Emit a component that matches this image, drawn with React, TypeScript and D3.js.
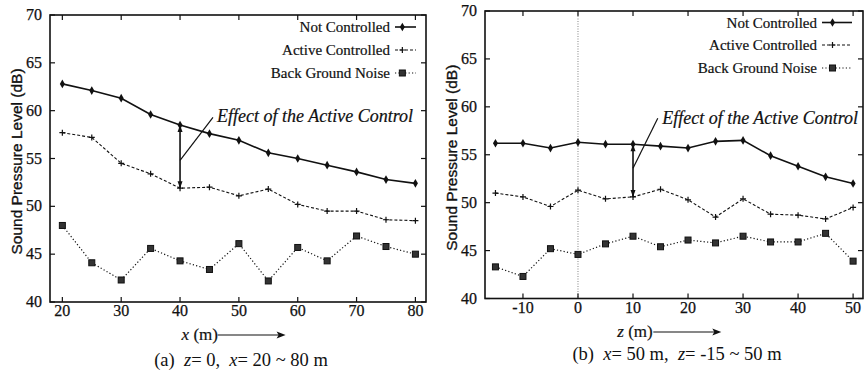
import { useEffect, useRef } from 'react'
import * as d3 from 'd3'

// ---- data ----
const seriesNames = ['Not Controlled', 'Active Controlled', 'Back Ground Noise']
const effectLabel = 'Effect of the Active Control'
const yTicks = [40, 45, 50, 55, 60, 65, 70]

// (a) z = 0, x = 20 ~ 80 m
const xPositions = [20, 25, 30, 35, 40, 45, 50, 55, 60, 65, 70, 75, 80]
const xNotControlled = [62.8, 62.1, 61.3, 59.6, 58.5, 57.6, 56.9, 55.6, 55.0, 54.3, 53.6, 52.8, 52.4]
const xActiveControlled = [57.7, 57.2, 54.5, 53.4, 51.9, 52.0, 51.1, 51.8, 50.2, 49.5, 49.5, 48.6, 48.5]
const xBackground = [48.0, 44.1, 42.3, 45.6, 44.3, 43.4, 46.1, 42.2, 45.7, 44.3, 46.9, 45.8, 45.0]
const xTicksA = [20, 30, 40, 50, 60, 70, 80]

// (b) x = 50 m, z = -15 ~ 50 m
const zPositions = [-15, -10, -5, 0, 5, 10, 15, 20, 25, 30, 35, 40, 45, 50]
const zNotControlled = [56.2, 56.2, 55.7, 56.3, 56.1, 56.1, 55.9, 55.7, 56.4, 56.5, 54.9, 53.8, 52.7, 52.0]
const zActiveControlled = [51.0, 50.6, 49.6, 51.3, 50.4, 50.6, 51.4, 50.3, 48.5, 50.4, 48.8, 48.7, 48.3, 49.5]
const zBackground = [43.3, 42.3, 45.2, 44.6, 45.7, 46.5, 45.4, 46.1, 45.8, 46.5, 45.9, 45.9, 46.8, 43.9]
const zTicksB = [-10, 0, 10, 20, 30, 40, 50]

const SERIF = '"Liberation Serif", "Times New Roman", serif'
const SANS = '"Liberation Sans", Arial, sans-serif'
const INK = '#111'
const NB = '\u00a0'

type PanelCfg = {
  left: number; right: number; top: number; bottom: number
  xDomain: [number, number]
  xs: number[]
  series: number[][]
  xTicks: number[]
  axisVar: string
  effectAt: number
  effectLine: [number, number, number, number] // x0, y0, x1, y1 in data units
  effectText: [number, number]
  legendRight: number
  legendRows: number[]
  legendSample: number
  caption: [string, string, string, string]
  captionTail: string
  zeroLine: boolean
  captionY: number
  titleY: number
}

function drawPanel(svg: d3.Selection<SVGSVGElement, unknown, null, undefined>, p: PanelCfg) {
  const x = d3.scaleLinear().domain(p.xDomain).range([p.left, p.right])
  const y = d3.scaleLinear().domain([40, 70]).range([p.bottom, p.top])
  const g = svg.append('g')

  // zero reference line
  if (p.zeroLine) {
    g.append('line')
      .attr('x1', x(0)).attr('x2', x(0)).attr('y1', p.top).attr('y2', p.bottom)
      .attr('stroke', '#666').attr('stroke-width', 0.8).attr('stroke-dasharray', '1,1.5')
  }

  // frame
  g.append('rect')
    .attr('x', p.left).attr('y', p.top)
    .attr('width', p.right - p.left).attr('height', p.bottom - p.top)
    .attr('fill', 'none').attr('stroke', INK).attr('stroke-width', 1.6)

  // mirrored inward ticks
  const tk = 5
  yTicks.forEach((v) => {
    g.append('line').attr('x1', p.left).attr('x2', p.left + tk).attr('y1', y(v)).attr('y2', y(v))
      .attr('stroke', INK).attr('stroke-width', 1.2)
    g.append('line').attr('x1', p.right).attr('x2', p.right - tk).attr('y1', y(v)).attr('y2', y(v))
      .attr('stroke', INK).attr('stroke-width', 1.2)
    g.append('text')
      .attr('x', p.left - 8).attr('y', y(v) + 5)
      .attr('text-anchor', 'end').attr('font-family', SERIF).attr('font-size', 16)
      .attr('fill', INK).attr('stroke', INK).attr('stroke-width', 0.25)
      .text(v)
  })
  p.xTicks.forEach((v) => {
    g.append('line').attr('x1', x(v)).attr('x2', x(v)).attr('y1', p.bottom).attr('y2', p.bottom - tk)
      .attr('stroke', INK).attr('stroke-width', 1.2)
    g.append('line').attr('x1', x(v)).attr('x2', x(v)).attr('y1', p.top).attr('y2', p.top + tk)
      .attr('stroke', INK).attr('stroke-width', 1.2)
    g.append('text')
      .attr('x', x(v)).attr('y', p.bottom + 14)
      .attr('text-anchor', 'middle').attr('font-family', SERIF).attr('font-size', 16)
      .attr('fill', INK).attr('stroke', INK).attr('stroke-width', 0.25)
      .text(v)
  })

  const styles = [
    { dash: null, width: 1.6 },
    { dash: '3,2', width: 1.1 },
    { dash: '1.2,2.2', width: 1.2 },
  ]

  const line = d3.line<[number, number]>().x((d) => x(d[0])).y((d) => y(d[1]))

  const marker = (sel: d3.Selection<SVGGElement, unknown, null, undefined>, kind: number, cx: number, cy: number) => {
    if (kind === 0) {
      sel.append('path').attr('d', d3.symbol(d3.symbolDiamond, 22)()).attr('transform', `translate(${cx},${cy})`).attr('fill', INK)
    } else if (kind === 1) {
      sel.append('path').attr('d', `M${cx - 3},${cy}H${cx + 3}M${cx},${cy - 3}V${cy + 3}`).attr('stroke', INK).attr('stroke-width', 1.2)
    } else {
      sel.append('rect').attr('x', cx - 3).attr('y', cy - 3).attr('width', 6).attr('height', 6)
        .attr('fill', '#333').attr('stroke', INK).attr('stroke-width', 1)
    }
  }

  p.series.forEach((vals, i) => {
    const pts = vals.map((v, j) => [p.xs[j], v] as [number, number])
    g.append('path').datum(pts)
      .attr('d', line).attr('fill', 'none').attr('stroke', INK)
      .attr('stroke-width', styles[i].width)
      .attr('stroke-dasharray', styles[i].dash)
    const mg = g.append('g')
    pts.forEach((d) => marker(mg, i, x(d[0]), y(d[1])))
  })

  // legend
  seriesNames.forEach((name, i) => {
    const ly = p.legendRows[i]
    g.append('text')
      .attr('x', p.legendRight).attr('y', ly + 5)
      .attr('text-anchor', 'end').attr('font-family', SERIF).attr('font-size', 15)
      .attr('fill', INK).attr('stroke', INK).attr('stroke-width', 0.2)
      .text(name)
    const x0 = p.legendRight + 5
    const x1 = x0 + p.legendSample
    g.append('line').attr('x1', x0).attr('x2', x1).attr('y1', ly).attr('y2', ly)
      .attr('stroke', INK).attr('stroke-width', styles[i].width).attr('stroke-dasharray', styles[i].dash)
    const lg = g.append('g')
    marker(lg, i, x0 + p.legendSample * 0.35, ly)
  })

  // effect annotation
  const iEff = p.xs.indexOf(p.effectAt)
  const yTop = y(p.series[0][iEff])
  const yBot = y(p.series[1][iEff])
  const ex = x(p.effectAt)
  g.append('line').attr('x1', ex).attr('x2', ex).attr('y1', yTop).attr('y2', yBot)
    .attr('stroke', INK).attr('stroke-width', 1.6)
  g.append('path').attr('d', `M${ex},${yTop}l-2.5,7h5z`).attr('fill', INK)
  g.append('path').attr('d', `M${ex},${yBot}l-2.5,-7h5z`).attr('fill', INK)
  const [a0, b0, a1, b1] = p.effectLine
  g.append('line').attr('x1', x(a0)).attr('y1', y(b0)).attr('x2', x(a1)).attr('y2', y(b1))
    .attr('stroke', INK).attr('stroke-width', 1.2)
  g.append('text')
    .attr('x', x(p.effectText[0])).attr('y', y(p.effectText[1]))
    .attr('font-family', SERIF).attr('font-style', 'italic').attr('font-size', 18)
    .attr('fill', INK).attr('stroke', INK).attr('stroke-width', 0.2)
    .text(effectLabel)

  // y axis title
  const midY = (p.top + p.bottom) / 2 + 3
  g.append('text')
    .attr('transform', `translate(${p.left - 28},${midY}) rotate(-90)`)
    .attr('text-anchor', 'middle').attr('font-family', SANS)
    .attr('font-size', 15.5).attr('fill', INK).attr('stroke', INK).attr('stroke-width', 0.35)
    .text('Sound Pressure Level (dB)')

  // x axis title with arrow
  const tx = p.left + (p.right - p.left) * 0.35
  const t = g.append('text')
    .attr('x', tx).attr('y', p.titleY)
    .attr('font-family', SERIF).attr('font-size', 17).attr('fill', INK)
    .attr('stroke', INK).attr('stroke-width', 0.2)
  t.append('tspan').attr('font-style', 'italic').text(p.axisVar)
  t.append('tspan').text(' (m)')
  const ax0 = tx + 36
  const ax1 = tx + 104
  g.append('line').attr('x1', ax0).attr('x2', ax1 - 4).attr('y1', p.titleY - 5).attr('y2', p.titleY - 5)
    .attr('stroke', INK).attr('stroke-width', 1.2)
  g.append('path').attr('d', `M${ax1},${p.titleY - 5}l-9,-3.5l2,3.5l-2,3.5z`).attr('fill', INK)

  // caption
  const c = g.append('text')
    .attr('x', (p.left + p.right) / 2 + 3).attr('y', p.captionY)
    .attr('text-anchor', 'middle').attr('font-family', SERIF).attr('font-size', 18.5).attr('fill', INK)
  c.append('tspan').text(p.caption[0])
  c.append('tspan').attr('font-style', 'italic').text(p.caption[1])
  c.append('tspan').text(p.caption[2])
  c.append('tspan').attr('font-style', 'italic').text(p.caption[3])
  c.append('tspan').text(p.captionTail)
}

export default function App() {
  const svgRef = useRef<SVGSVGElement>(null)

  useEffect(() => {
    const svg = d3.select(svgRef.current as SVGSVGElement)
    svg.selectAll('*').remove()

    drawPanel(svg, {
      left: 50, right: 426, top: 15, bottom: 302,
      xDomain: [17.9, 81.8],
      xs: xPositions,
      series: [xNotControlled, xActiveControlled, xBackground],
      xTicks: xTicksA,
      axisVar: 'x',
      effectAt: 40,
      effectLine: [40, 54.8, 45.6, 59.3],
      effectText: [46.3, 58.8],
      legendRight: 390,
      legendRows: [27, 50, 73],
      legendSample: 21,
      caption: [`(a)${NB}${NB}`, 'z', `=${NB}0,${NB}${NB}`, 'x'],
      captionTail: `=${NB}20 ~ 80 m`,
      zeroLine: false,
      captionY: 366,
      titleY: 340,
    })

    drawPanel(svg, {
      left: 485, right: 863, top: 11, bottom: 298.5,
      xDomain: [-16.9, 51.8],
      xs: zPositions,
      series: [zNotControlled, zActiveControlled, zBackground],
      xTicks: zTicksB,
      axisVar: 'z',
      effectAt: 10,
      effectLine: [10, 53.6, 14.5, 58.8],
      effectText: [15.3, 58.2],
      legendRight: 817,
      legendRows: [22.5, 45, 68],
      legendSample: 30,
      caption: [`(b)${NB}${NB}`, 'x', `=${NB}50 m,${NB}${NB}`, 'z'],
      captionTail: `=${NB}-15 ~ 50 m`,
      zeroLine: true,
      captionY: 360,
      titleY: 337,
    })
  }, [])

  return (
    <svg
      ref={svgRef}
      width={867}
      height={371}
      style={{ position: 'absolute', left: 0, top: 0, background: '#fff' }}
    />
  )
}
